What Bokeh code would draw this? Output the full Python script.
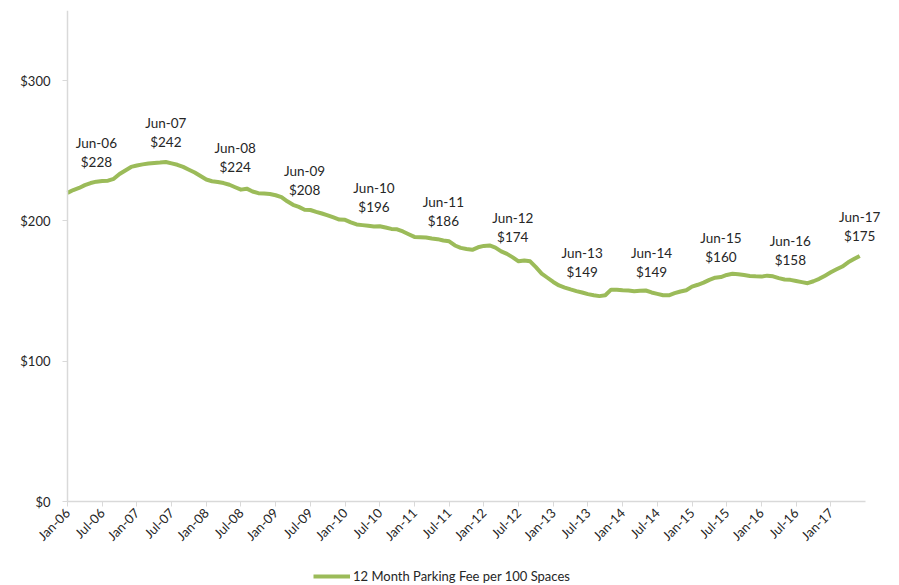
import math

from bokeh.core.properties import value
from bokeh.embed import file_html
from bokeh.models import (ColumnDataSource, FixedTicker, LabelSet, Legend,
                          LegendItem, Range1d)
from bokeh.plotting import figure
from bokeh.resources import INLINE

# Monthly 12-month parking fee per 100 spaces, Jan-06 .. Jun-17
fees = [
    220.0, 222.0, 223.5, 225.5, 227.0, 228.0, 228.5, 228.7, 230.0, 233.5, 236.0, 238.5,   # 2006
    239.5, 240.3, 241.0, 241.3, 241.6, 242.0, 241.0, 240.0, 238.5, 236.5, 234.5, 232.0,   # 2007
    229.5, 228.3, 227.8, 227.0, 225.8, 224.0, 222.3, 223.0, 221.0, 219.8, 219.5, 219.2,   # 2008
    218.3, 217.0, 214.0, 211.5, 210.0, 208.0, 207.8, 206.5, 205.3, 204.0, 202.5, 201.0,   # 2009
    200.8, 199.0, 197.5, 197.0, 196.5, 196.0, 196.2, 195.3, 194.3, 194.0, 192.5, 190.5,   # 2010
    188.6, 188.4, 188.2, 187.5, 187.0, 186.0, 185.5, 182.5, 180.8, 180.0, 179.4, 181.2,   # 2011
    182.2, 182.5, 181.0, 178.3, 176.5, 174.0, 171.2, 171.8, 171.2, 167.0, 162.5, 159.5,   # 2012
    156.5, 154.0, 152.5, 151.2, 150.0, 149.0, 147.8, 147.0, 146.4, 147.0, 151.0, 151.0,   # 2013
    150.6, 150.4, 149.9, 150.2, 150.4, 149.0, 148.0, 147.0, 147.0, 148.5, 149.7, 150.6,   # 2014
    153.2, 154.5, 156.0, 158.0, 159.5, 160.0, 161.5, 162.3, 162.0, 161.4, 160.8, 160.5,   # 2015
    160.3, 161.0, 160.5, 159.2, 158.2, 158.0, 157.2, 156.4, 155.6, 157.0, 158.7, 161.0,   # 2016
    163.4, 165.5, 167.5, 170.5, 172.8, 175.0,                                             # 2017
]
months = list(range(len(fees)))

# Axis tick labels: every six months
x_tick_labels = ["Jan-06", "Jul-06", "Jan-07", "Jul-07", "Jan-08", "Jul-08",
                 "Jan-09", "Jul-09", "Jan-10", "Jul-10", "Jan-11", "Jul-11",
                 "Jan-12", "Jul-12", "Jan-13", "Jul-13", "Jan-14", "Jul-14",
                 "Jan-15", "Jul-15", "Jan-16", "Jul-16", "Jan-17"]
y_ticks = [0, 100, 200, 300]
y_tick_labels = ["$0", "$100", "$200", "$300"]
y_max = 350

# Annotated June points
june_names = ["Jun-06", "Jun-07", "Jun-08", "Jun-09", "Jun-10", "Jun-11",
              "Jun-12", "Jun-13", "Jun-14", "Jun-15", "Jun-16", "Jun-17"]
june_idx = [5 + 12 * k for k in range(len(june_names))]

FONT = "Lato"
TEXT = "#262626"
AXIS = "#d9d9d9"
GREEN = "#9bbb59"

# Page geometry (pixels).  The plot frame fills the page below a thin top
# border; both axes are pinned at zero so their labels and the legend sit
# inside the frame around the plotting area.
W, H = 899, 585
TOP = 10
ORIGIN_X, ORIGIN_Y = 67, 501      # where (Jan-06, $0) lands
AXIS_END_X = 865                  # right end of the month axis
px_month = (AXIS_END_X - ORIGIN_X) / len(fees)
px_dollar = (ORIGIN_Y - TOP) / y_max
x_start, x_end = -ORIGIN_X / px_month, (W - ORIGIN_X) / px_month
y_start = -(H - ORIGIN_Y) / px_dollar

p = figure(width=W, height=H, output_backend="svg", toolbar_location=None,
           x_range=Range1d(x_start, x_end), y_range=Range1d(y_start, y_max),
           min_border_left=0, min_border_right=0,
           min_border_top=TOP, min_border_bottom=0)
p.outline_line_color = None
p.grid.visible = False
p.background_fill_color = "white"
p.border_fill_color = "white"

line = p.line(months, fees, line_color=GREEN, line_width=4, line_join="round")

# Axes
x_ticks = list(range(0, 133, 6))
p.xaxis.ticker = FixedTicker(ticks=x_ticks)
p.xaxis.major_label_overrides = {t: s for t, s in zip(x_ticks, x_tick_labels)}
p.xaxis.major_label_orientation = math.pi / 4
p.xaxis.fixed_location = 0
p.xaxis.bounds = (0, len(fees))
p.yaxis.ticker = FixedTicker(ticks=y_ticks)
p.yaxis.major_label_overrides = {t: s for t, s in zip(y_ticks, y_tick_labels)}
p.yaxis.fixed_location = 0
p.yaxis.bounds = (0, y_max)
for ax in (p.xaxis, p.yaxis):
    ax.axis_line_color = AXIS
    ax.axis_line_width = 1.5
    ax.major_tick_line_color = AXIS
    ax.major_tick_out = 5
    ax.major_tick_in = 0
    ax.minor_tick_line_color = None
    ax.major_label_text_font = FONT
    ax.major_label_text_font_size = "13px"
    ax.major_label_text_color = TEXT
p.xaxis.major_label_standoff = 4
p.yaxis.major_label_standoff = 12

# Data labels above each June value
src = ColumnDataSource(dict(
    x=june_idx,
    y=[fees[i] for i in june_idx],
    name=june_names,
    val=["$%d" % round(fees[i]) for i in june_idx],
))
common = dict(x="x", y="y", source=src, text_align="center",
              text_baseline="middle", text_font=value(FONT),
              text_font_size="13.5px", text_color=TEXT)
p.add_layout(LabelSet(text="val", y_offset=20, **common))
p.add_layout(LabelSet(text="name", y_offset=39, **common))

legend = Legend(items=[LegendItem(label="12 Month Parking Fee per 100 Spaces",
                                  renderers=[line])],
                location=(313, 1), orientation="horizontal",
                padding=0, margin=0, spacing=0,
                glyph_width=37, glyph_height=14, label_height=14,
                label_standoff=3, label_text_font=FONT,
                label_text_font_size="13px", label_text_color=TEXT,
                border_line_color=None, background_fill_alpha=0)
p.add_layout(legend)

open("out.html", "w").write(file_html(p, INLINE))
